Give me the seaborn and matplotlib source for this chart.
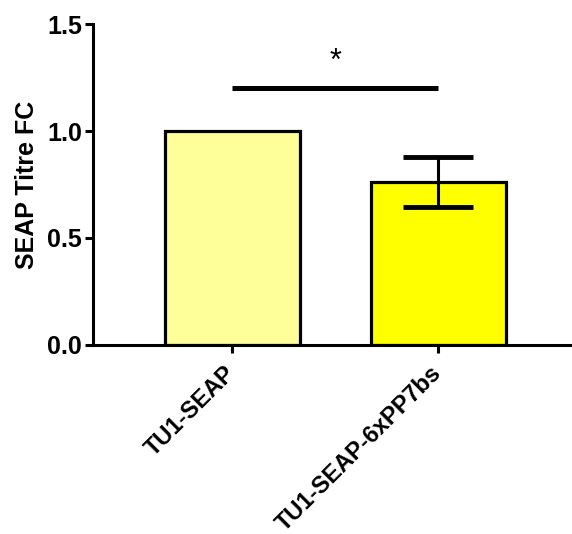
import numpy as np
import pandas as pd
import matplotlib
matplotlib.use('Agg')
import matplotlib.pyplot as plt
import seaborn as sns

# dados
grupos = ['TU1-SEAP', 'TU1-SEAP-6xPP7bs']
media_fc = [1.0, 0.76]
desvio_fc = [0.0, 0.117]
cores = ['#FFFF99', '#FFFF00']
sig_y = 1.2
sig_label = '*'

df = pd.DataFrame({'grupo': grupos, 'fc': media_fc})

sns.set_style('ticks')
plt.rcParams['font.family'] = ['Liberation Sans', 'DejaVu Sans']
plt.rcParams['font.weight'] = 'bold'
plt.rcParams['text.color'] = 'black'
plt.rcParams['axes.labelcolor'] = 'black'
plt.rcParams['xtick.color'] = 'black'
plt.rcParams['ytick.color'] = 'black'

fig = plt.figure(figsize=(5.72, 5.34), dpi=100)
ax = fig.add_axes([0.1626, 0.354, 0.8374, 0.601])

sns.barplot(data=df, x='grupo', y='fc', hue='grupo', palette=cores, legend=False,
            errorbar=None, width=0.655, edgecolor='black', linewidth=2.3,
            saturation=1, ax=ax)

# barras de erro (SD) apenas onde existe desvio
for i, (m, s) in enumerate(zip(media_fc, desvio_fc)):
    if s > 0:
        ax.errorbar(i, m, yerr=s, color='black', elinewidth=2.2, capsize=25,
                    capthick=3.5, zorder=5)

# linha de significância
ax.plot([0, 1], [sig_y, sig_y], color='black', lw=3.6, solid_capstyle='butt')
ax.text(0.5, sig_y + 0.125, sig_label, ha='center', va='center', fontsize=22,
        fontweight='normal')

ax.set_ylim(0, 1.5)
ax.set_xlim(-0.675, 1.65)
ax.set_yticks([0.0, 0.5, 1.0, 1.5])
ax.set_yticklabels(['0.0', '0.5', '1.0', '1.5'])
ax.set_xlabel('')
ax.set_ylabel('SEAP Titre FC', fontsize=18, fontweight='bold', labelpad=6)

for lab in ax.get_yticklabels():
    lab.set_fontsize(18)
    lab.set_fontweight('bold')
ax.set_xticks(range(len(grupos)))
ax.set_xticklabels(grupos, rotation=45, ha='right', va='center',
                   rotation_mode='anchor', fontsize=17, fontweight='bold')

ax.tick_params(axis='both', width=2.2, length=6, direction='out', color='black')
ax.tick_params(axis='x', pad=12)
ax.tick_params(axis='y', pad=2)
for sp in ['left', 'bottom']:
    ax.spines[sp].set_linewidth(2.2)
    ax.spines[sp].set_color('black')
sns.despine(ax=ax)

fig.savefig('out.png', dpi=100)
